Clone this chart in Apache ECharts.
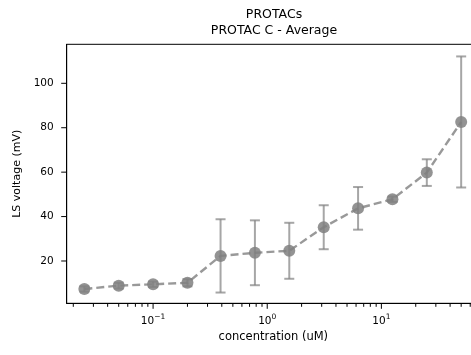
<!DOCTYPE html>
<html>
<head>
<meta charset="utf-8">
<script src="https://cdn.jsdelivr.net/npm/echarts@6/dist/echarts.min.js"></script>
<style>
html,body{margin:0;padding:0;background:#fff;}
#chart{width:471px;height:355px;}
</style>
</head>
<body>
<div id="chart"></div>
<script>
// ---- data ----
var concentration = [0.025, 0.05, 0.1, 0.2, 0.39, 0.78, 1.56, 3.125, 6.25, 12.5, 25, 50];
var meanVoltage   = [7.4, 8.9, 9.5, 10.2, 22.3, 23.7, 24.6, 35.2, 43.7, 47.8, 59.8, 82.6];
var errVoltage    = [1.2, 1.3, 1.2, 1.6, 16.5, 14.6, 12.6, 9.9, 9.6, 1.2, 6.0, 29.5];

// ---- ticks ----
var xMajorTicks = [0.1, 1, 10];
var xMinorTicks = [0.02, 0.03, 0.04, 0.05, 0.06, 0.07, 0.08, 0.09,
                   0.2, 0.3, 0.4, 0.5, 0.6, 0.7, 0.8, 0.9,
                   2, 3, 4, 5, 6, 7, 8, 9,
                   20, 30, 40, 50, 60, 70];
var yMajorTicks = [20, 40, 60, 80, 100];

var X_MIN = 0.01751, X_MAX = 73.1;
var Y_MIN = 0.955, Y_MAX = 117.56;

var FONT = 'DejaVu Sans';
var chart = echarts.init(document.getElementById('chart'), null, {renderer: 'canvas'});

var tickData = [];
xMajorTicks.forEach(function (v) { tickData.push([v, Y_MIN, 0]); });
xMinorTicks.forEach(function (v) { tickData.push([v, Y_MIN, 1]); });
yMajorTicks.forEach(function (v) { tickData.push([X_MIN, v, 2]); });

var errData = concentration.map(function (c, i) {
  return [c, meanVoltage[i] - errVoltage[i], meanVoltage[i] + errVoltage[i]];
});

function supText(n) {
  return String(n).replace('-', '\u2212');
}

var option = {
  animation: false,
  backgroundColor: '#ffffff',
  title: {
    text: 'PROTACs\nPROTAC C - Average',
    left: 269,
    top: 2,
    textAlign: 'center',
    textStyle: {fontFamily: FONT, fontSize: 12.5, fontWeight: 'normal', color: '#000', lineHeight: 16}
  },
  grid: {
    left: 66.7, width: 413.3, top: 44.3, bottom: 51.7,
    outerBoundsMode: 'none',
    containLabel: false,
    show: true, borderColor: '#000', borderWidth: 1, backgroundColor: 'transparent'
  },
  xAxis: {
    type: 'log',
    logBase: 10,
    min: X_MIN,
    max: X_MAX,
    name: 'concentration (uM)',
    nameLocation: 'middle',
    nameGap: 28,
    nameTextStyle: {fontFamily: FONT, fontSize: 11.5, color: '#000'},
    axisLine: {show: true, onZero: false, lineStyle: {color: '#000', width: 1}},
    axisTick: {show: false},
    splitLine: {show: false},
    minorTick: {show: false},
    axisLabel: {
      margin: 10,
      showMinLabel: false,
      showMaxLabel: false,
      formatter: function (v) {
        var l = Math.log(v) / Math.LN10;
        var r = Math.round(l);
        if (Math.abs(l - r) > 1e-6) return '';
        return '{b|10}{s|' + supText(r) + '}';
      },
      rich: {
        b: {fontFamily: FONT, fontSize: 10.5, color: '#000', verticalAlign: 'bottom'},
        s: {fontFamily: FONT, fontSize: 7.5, color: '#000', verticalAlign: 'bottom', padding: [0, 0, 5, 0]}
      }
    }
  },
  yAxis: {
    type: 'value',
    min: Y_MIN,
    max: Y_MAX,
    name: 'LS voltage (mV)',
    nameLocation: 'middle',
    nameGap: 39,
    nameTextStyle: {fontFamily: FONT, fontSize: 11, color: '#000'},
    axisLine: {show: true, onZero: false, lineStyle: {color: '#000', width: 1}},
    axisTick: {show: false},
    splitLine: {show: false},
    axisLabel: {
      margin: 13,
      showMinLabel: false,
      showMaxLabel: false,
      fontFamily: FONT, fontSize: 10.5, color: '#000',
      formatter: function (v) {
        return (yMajorTicks.indexOf(Math.round(v)) >= 0 && Math.abs(v - Math.round(v)) < 1e-6) ? String(Math.round(v)) : '';
      }
    }
  },
  series: [
    {
      type: 'line',
      data: concentration.map(function (c, i) { return [c, meanVoltage[i]]; }),
      symbol: 'circle',
      symbolSize: 12,
      lineStyle: {color: 'rgba(128,128,128,0.8)', width: 2.4, type: [8, 4]},
      itemStyle: {color: 'rgba(128,128,128,0.85)', borderWidth: 0},
      z: 2
    },
    {
      type: 'custom',
      data: errData,
      z: 3,
      clip: false,
      renderItem: function (params, api) {
        var x = api.value(0);
        var lo = api.coord([x, api.value(1)]);
        var hi = api.coord([x, api.value(2)]);
        var cw = 5;
        var st = {stroke: 'rgba(128,128,128,0.7)', lineWidth: 2};
        return {
          type: 'group',
          children: [
            {type: 'line', shape: {x1: lo[0], y1: lo[1], x2: hi[0], y2: hi[1]}, style: st},
            {type: 'line', shape: {x1: lo[0] - cw, y1: lo[1], x2: lo[0] + cw, y2: lo[1]}, style: st},
            {type: 'line', shape: {x1: hi[0] - cw, y1: hi[1], x2: hi[0] + cw, y2: hi[1]}, style: st}
          ]
        };
      }
    },
    {
      type: 'custom',
      data: tickData,
      z: 5,
      clip: false,
      silent: true,
      renderItem: function (params, api) {
        var kind = api.value(2);
        var p = api.coord([api.value(0), api.value(1)]);
        var st = {stroke: '#000', lineWidth: 1};
        if (kind === 2) {
          return {type: 'line', shape: {x1: p[0] - 5.5, y1: p[1], x2: p[0], y2: p[1]}, style: st};
        }
        var len = kind === 0 ? 5.5 : 3.5;
        return {type: 'line', shape: {x1: p[0], y1: p[1], x2: p[0], y2: p[1] + len}, style: st};
      }
    }
  ]
};
chart.setOption(option);
</script>
</body>
</html>
